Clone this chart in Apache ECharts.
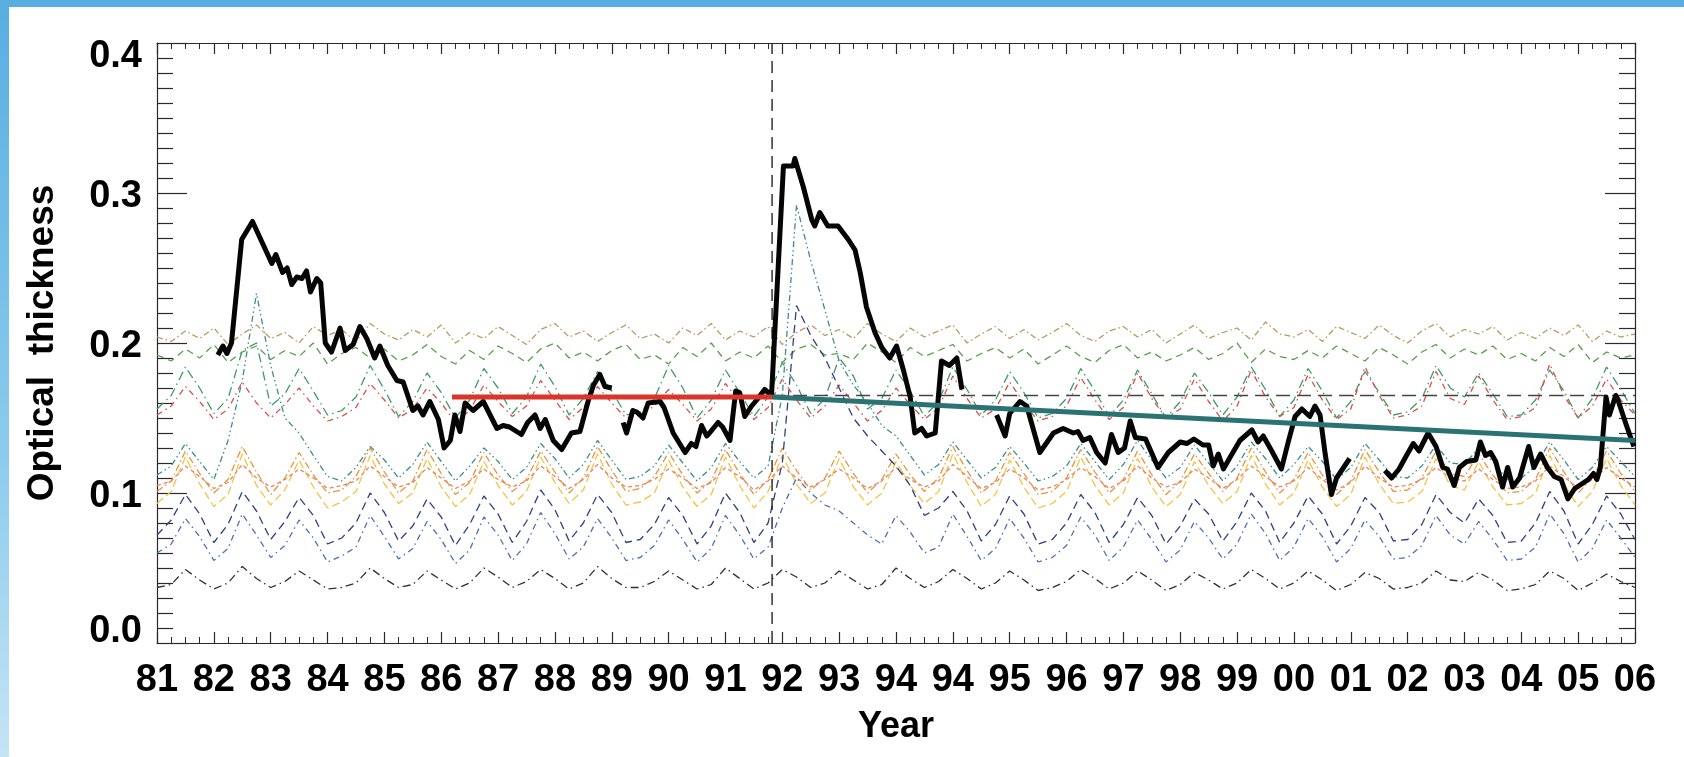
<!DOCTYPE html>
<html>
<head>
<meta charset="utf-8">
<script src="https://cdn.jsdelivr.net/npm/echarts/dist/echarts.min.js"></script>
<style>
  html, body { margin: 0; padding: 0; background: #ffffff; }
  #chart { width: 1684px; height: 757px; }
</style>
</head>
<body>
<div id="chart"></div>
<script>
// Year tick labels along the bottom axis (one per axis unit)
const xLabels = ['81','82','83','84','85','86','87','88','89','90','91','92','93','94','94',
  '95','96','97','98','99','00','01','02','03','04','05','06'];

// Optical thickness (thick black curve); null marks a data gap
const blackT = [
  1.07,1.16,1.23,1.31,1.49,1.68,2.02,2.09,2.21,2.29,
  2.37,2.46,2.55,2.63,2.70,2.81,2.88,2.96,3.07,3.22,
  3.31,3.45,3.57,3.69,3.83,3.92,4.06,4.22,4.33,4.50,
  4.59,4.68,4.80,4.95,5.05,5.16,5.24,5.33,5.42,5.56,
  5.74,5.98,6.09,6.20,6.41,6.52,6.65,6.74,6.83,6.97,
  7.12,7.29,7.44,7.59,7.68,7.79,7.88,8.00,8.10,
  8.20,8.26,8.37,8.44,8.55,8.64,8.85,8.92,9.08,9.29,
  9.40,9.48,9.58,9.67,9.72,9.87,9.95,10.08,10.18,10.25,
  10.34,10.46,10.55,10.69,10.81,11.02,11.19,11.22,11.37,11.52,
  11.57,11.66,11.80,11.98,12.16,12.28,12.37,12.48,12.63,12.75,
  12.89,13.01,13.13,13.25,13.33,13.45,13.54,13.69,13.80,13.94,
  14.07,14.16,14.40,
  14.77,14.92,15.00,15.18,15.30,15.53,15.77,15.94,16.12,16.20,
  16.29,16.41,16.53,16.68,16.79,16.91,17.02,17.12,17.21,17.39,
  17.61,17.79,18.00,18.12,18.24,18.40,18.50,18.58,18.67,18.76,
  18.88,19.05,19.26,19.37,19.46,19.61,19.78,19.90,20.02,20.14,
  20.28,20.37,20.46,20.55,20.66,20.75,20.98,21.30,
  21.60,21.72,21.85,21.98,22.10,22.20,22.36,22.50,22.62,22.70,
  22.82,22.91,23.04,23.20,23.28,23.37,23.46,23.55,23.67,23.76,
  23.85,23.97,24.13,24.22,24.34,24.46,24.58,24.70,24.82,24.94,
  25.06,25.18,25.27,25.33,25.39,25.49,25.55,25.66,25.70,25.85,25.98
];
const blackV = [
  .192,.198,.193,.200,.269,.281,.253,.259,.247,.250,
  .239,.244,.243,.248,.234,.243,.240,.200,.194,.210,
  .195,.199,.211,.203,.190,.198,.185,.175,.174,.155,
  .158,.152,.161,.149,.130,.135,.152,.141,.160,.155,
  .161,.143,.145,.144,.139,.147,.152,.143,.149,.135,
  .129,.140,.141,.162,.172,.179,.171,.170,null,
  .147,.140,.155,.154,.150,.160,.161,.157,.140,.127,
  .133,.131,.145,.138,.140,.147,.144,.135,.168,.167,
  .151,.158,.162,.169,.165,.318,.318,.323,.304,.282,
  .278,.287,.278,.278,.269,.262,.247,.224,.207,.197,
  .190,.198,.182,.164,.140,.143,.138,.140,.188,.185,
  .190,.169,null,
  .152,.138,.153,.161,.158,.127,.140,.143,.140,.141,
  .135,.137,.127,.120,.139,.127,.130,.148,.137,.136,
  .117,.127,.134,.133,.136,.132,.132,.118,.126,.116,
  .124,.135,.142,.134,.138,.128,.116,.134,.151,.156,
  .151,.158,.152,.126,.099,.110,.123,null,
  .115,.110,.116,.125,.133,.128,.140,.131,.117,.116,
  .105,.117,.121,.122,.134,.125,.127,.121,.104,.117,
  .104,.110,.131,.117,.126,.117,.111,.109,.096,.103,
  .106,.109,.113,.109,.117,.164,.152,.165,.162,.145,.131
];

// Mean before the eruption, trend after it, and the reference level
const meanT = [5.19, 10.82];
const meanV = [0.164, 0.164];
const trendT = [10.82, 26];
const trendV = [0.164, 0.135];
const refLevelT = [10.82, 26];
const refLevelV = [0.165, 0.165];
const eruptionT = 10.82;

// Quarterly samples of the individual thin curves
const quarterT = Array.from({ length: 105 }, (_, i) => i / 4);

const olive = [
  .204,.201,.208,.203,.210,.199,.206,.212, .203,.207,.200,.211,.205,.209,.201,.213,
  .206,.202,.209,.204,.212,.200,.207,.203, .211,.205,.199,.209,.213,.204,.208,.201,
  .207,.212,.203,.206,.200,.210,.205,.213, .202,.208,.204,.211,.199,.207,.212,.205,
  .209,.203,.213,.206,.201,.210,.204,.208, .212,.200,.206,.211,.203,.209,.202,.207,
  .213,.205,.201,.208,.211,.204,.209,.200, .206,.212,.203,.207,.210,.202,.214,.206,
  .204,.209,.201,.211,.207,.203,.212,.205, .200,.208,.213,.204,.209,.206,.211,.202,
  .207,.203,.210,.205,.212,.201,.208,.204, .206
];
const greenDash = [
  .192,.188,.196,.190,.199,.187,.194,.198, .189,.195,.191,.200,.186,.193,.197,.190,
  .196,.188,.192,.199,.191,.186,.195,.189, .198,.193,.187,.196,.200,.190,.194,.188,
  .195,.199,.189,.192,.186,.197,.191,.200, .188,.194,.190,.198,.187,.196,.199,.192,
  .193,.189,.200,.194,.187,.197,.191,.195, .199,.188,.193,.197,.190,.196,.186,.192,
  .198,.191,.187,.195,.199,.190,.194,.188, .192,.197,.189,.193,.200,.187,.196,.191,
  .189,.195,.190,.198,.193,.188,.197,.192, .186,.194,.199,.190,.196,.192,.198,.189,
  .193,.188,.197,.191,.199,.187,.194,.190, .192
];
const greenDot = [
  .156,.165,.184,.170,.153,.163,.195,.200, .158,.166,.183,.168,.152,.155,.164,.185,
  .169,.151,.161,.180,.167,.150,.162,.183, .170,.153,.164,.186,.171,.152,.163,.181,
  .168,.152,.154,.163,.185,.170,.150,.162, .182,.167,.151,.164,.187,.172,.153,.163,
  .190,.178,.156,.163,.182,.168,.151,.161, .184,.169,.152,.162,.181,.167,.150,.153,
  .163,.183,.168,.151,.162,.182,.166,.150, .161,.180,.167,.152,.164,.184,.169,.151,
  .162,.183,.168,.150,.161,.181,.167,.152, .154,.163,.185,.170,.164,.180,.166,.151,
  .152,.162,.182,.168,.150,.163,.184,.169, .153
];
const redDot = [
  .152,.158,.171,.161,.149,.156,.174,.160, .150,.159,.170,.158,.148,.151,.157,.173,
  .162,.150,.156,.170,.160,.147,.155,.172, .161,.151,.158,.175,.162,.149,.157,.171,
  .160,.150,.152,.158,.169,.159,.148,.156, .173,.161,.149,.157,.176,.162,.150,.158,
  .172,.160,.148,.155,.170,.159,.149,.157, .178,.163,.150,.156,.174,.160,.148,.151,
  .158,.177,.162,.149,.157,.180,.163,.150, .156,.176,.161,.148,.158,.182,.164,.151,
  .157,.179,.162,.149,.156,.184,.165,.150, .152,.158,.181,.163,.159,.178,.162,.149,
  .151,.157,.186,.165,.150,.158,.176,.162, .152
];
const tealDot = [
  .112,.118,.133,.121,.109,.135,.175,.233, .185,.150,.140,.125,.111,.108,.117,.131,
  .122,.110,.119,.134,.121,.108,.118,.130, .121,.109,.117,.133,.123,.110,.119,.135,
  .122,.109,.111,.118,.132,.120,.108,.117, .133,.121,.110,.118,.165,.292,.255,.222,
  .188,.172,.160,.145,.138,.125,.112,.119, .134,.122,.110,.117,.131,.120,.108,.111,
  .118,.133,.121,.109,.119,.135,.122,.110, .117,.132,.120,.108,.118,.134,.123,.110,
  .119,.131,.121,.109,.117,.133,.122,.111, .110,.118,.132,.120,.119,.130,.121,.109,
  .110,.118,.134,.122,.109,.117,.131,.121, .111
];
const orangeDot = [
  .101,.108,.128,.113,.100,.109,.131,.114, .099,.110,.127,.112,.100,.102,.111,.130,
  .114,.100,.108,.129,.113,.099,.107,.127, .112,.101,.109,.128,.114,.100,.110,.131,
  .115,.101,.103,.111,.127,.112,.100,.108, .129,.113,.099,.109,.130,.115,.102,.110,
  .128,.113,.100,.109,.126,.112,.101,.110, .131,.115,.100,.108,.127,.113,.099,.101,
  .110,.129,.114,.100,.109,.128,.112,.099, .108,.126,.113,.101,.110,.130,.114,.100,
  .109,.127,.112,.099,.108,.129,.114,.101, .102,.110,.128,.113,.111,.126,.112,.100,
  .101,.109,.130,.114,.100,.110,.128,.113, .101
];
const yellowDash = [
  .093,.101,.124,.106,.091,.099,.126,.105, .092,.102,.122,.104,.090,.094,.101,.125,
  .106,.093,.100,.123,.104,.091,.099,.121, .105,.092,.101,.124,.107,.093,.102,.126,
  .106,.092,.094,.100,.122,.104,.091,.099, .124,.105,.090,.101,.125,.106,.093,.100,
  .123,.104,.092,.100,.121,.105,.093,.101, .126,.107,.091,.099,.122,.104,.090,.093,
  .101,.124,.105,.092,.100,.123,.104,.091, .099,.121,.105,.093,.101,.125,.106,.092,
  .100,.122,.104,.091,.099,.124,.106,.093, .094,.101,.123,.105,.102,.121,.104,.092,
  .093,.100,.125,.106,.091,.101,.123,.105, .092
];
const salmonDot = [
  .105,.108,.118,.111,.103,.107,.119,.110, .104,.109,.116,.110,.103,.105,.108,.118,
  .111,.104,.107,.117,.110,.103,.108,.116, .109,.104,.108,.118,.111,.103,.109,.119,
  .110,.104,.105,.109,.116,.110,.103,.107, .117,.111,.102,.108,.118,.110,.104,.109,
  .116,.110,.103,.108,.117,.109,.104,.108, .119,.111,.103,.107,.116,.110,.102,.104,
  .109,.117,.111,.103,.108,.118,.110,.104, .107,.116,.110,.103,.109,.118,.111,.104,
  .108,.117,.109,.102,.107,.118,.110,.104, .105,.109,.117,.110,.108,.116,.109,.103,
  .104,.108,.118,.111,.103,.109,.117,.110, .104
];
const navyDash = [
  .072,.082,.099,.086,.067,.079,.101,.088, .069,.081,.097,.085,.066,.070,.080,.100,
  .087,.068,.078,.096,.084,.065,.079,.098, .086,.067,.081,.102,.089,.068,.080,.099,
  .087,.067,.069,.079,.097,.085,.066,.078, .100,.087,.067,.080,.120,.225,.205,.190,
  .170,.150,.138,.128,.118,.105,.085,.090, .101,.088,.068,.079,.098,.086,.066,.069,
  .080,.099,.087,.067,.079,.097,.085,.066, .078,.096,.086,.068,.081,.100,.088,.067,
  .080,.098,.086,.066,.078,.097,.087,.068, .069,.079,.099,.087,.080,.096,.085,.067,
  .068,.080,.101,.088,.066,.079,.098,.086, .069
];
const blueDot = [
  .060,.066,.083,.071,.055,.063,.086,.072, .057,.065,.082,.070,.054,.058,.064,.085,
  .071,.056,.063,.081,.069,.053,.062,.084, .072,.055,.066,.087,.073,.056,.064,.083,
  .070,.055,.057,.065,.082,.069,.054,.063, .085,.072,.056,.064,.090,.110,.100,.092,
  .088,.080,.072,.066,.085,.074,.060,.064, .086,.071,.055,.063,.083,.070,.054,.057,
  .065,.084,.072,.055,.064,.082,.069,.054, .062,.081,.070,.056,.066,.086,.073,.055,
  .064,.083,.071,.054,.063,.082,.071,.056, .057,.065,.085,.072,.066,.081,.069,.055,
  .056,.064,.086,.073,.054,.063,.082,.070, .057
];
const darkDot = [
  .037,.039,.049,.042,.036,.040,.051,.043, .037,.041,.048,.042,.036,.037,.040,.050,
  .043,.037,.039,.048,.042,.036,.040,.050, .044,.037,.041,.049,.043,.036,.040,.051,
  .043,.037,.037,.041,.048,.042,.036,.039, .050,.043,.036,.040,.049,.044,.037,.040,
  .048,.042,.036,.039,.050,.043,.037,.041, .049,.043,.036,.040,.048,.042,.035,.037,
  .041,.049,.043,.036,.040,.048,.042,.035, .039,.047,.042,.036,.040,.049,.043,.036,
  .040,.048,.042,.035,.039,.047,.043,.036, .037,.040,.048,.042,.041,.047,.042,.035,
  .036,.039,.048,.043,.035,.040,.046,.041, .037
];

const FONT = 'Liberation Sans';

function thinCurve(values, color, dash) {
  return {
    type: 'line',
    data: values.map((v, i) => [quarterT[i], v]),
    symbol: 'none',
    silent: true,
    z: 2,
    lineStyle: { color: color, width: 1.3, type: dash }
  };
}

function pairs(ts, vs) {
  return ts.map((t, i) => [t, vs[i] === null ? '-' : vs[i]]);
}

const chart = echarts.init(document.getElementById('chart'), null, { renderer: 'canvas' });

const tickColor = '#2a2a2a';
function frameAxisX(position, showLabels) {
  return {
    type: 'value', position: position, min: 0, max: 26, interval: 1,
    axisLine: { show: true, onZero: false, lineStyle: { color: tickColor, width: 1.2 } },
    axisTick: { show: true, inside: true, length: 11, lineStyle: { color: tickColor, width: 1.2 } },
    minorTick: { show: true, splitNumber: 4, length: 6, lineStyle: { color: tickColor, width: 1 } },
    splitLine: { show: false },
    axisLabel: showLabels ? {
      show: true, margin: 19, color: '#000', fontFamily: FONT, fontWeight: 'bold', fontSize: 38,
      formatter: v => xLabels[Math.round(v)] || ''
    } : { show: false },
    name: showLabels ? 'Year' : '',
    nameLocation: 'middle', nameGap: 66,
    nameTextStyle: { color: '#000', fontFamily: FONT, fontWeight: 'bold', fontSize: 36 }
  };
}
function frameAxisY(position, showLabels) {
  const tok = { fontFamily: FONT, fontWeight: 'bold', fontSize: 38, color: '#000' };
  return {
    type: 'value', position: position, min: 0, max: 0.4, interval: 0.1,
    axisLine: { show: true, onZero: false, lineStyle: { color: tickColor, width: 1.2 } },
    axisTick: { show: true, inside: true, length: 30, lineStyle: { color: tickColor, width: 1.2 } },
    minorTick: { show: true, splitNumber: 10, length: 16, lineStyle: { color: tickColor, width: 1.2 } },
    splitLine: { show: false },
    axisLabel: showLabels ? {
      show: true, margin: 15, fontFamily: FONT, fontWeight: 'bold', fontSize: 38, color: '#000',
      formatter: v => {
        const s = v.toFixed(1);
        if (v > 0.35) return '{top|' + s + '}';
        if (v < 0.05) return '{bot|' + s + '}';
        return '{mid|' + s + '}';
      },
      rich: {
        top: Object.assign({ padding: [28, 0, 0, 0] }, tok),
        bot: Object.assign({ padding: [0, 0, 22, 0] }, tok),
        mid: Object.assign({ padding: [8, 0, 0, 0] }, tok)
      }
    } : { show: false },
    name: showLabels ? 'Optical  thickness' : '',
    nameLocation: 'middle', nameGap: 96,
    nameTextStyle: { color: '#000', fontFamily: FONT, fontWeight: 'bold', fontSize: 37 }
  };
}

chart.setOption({
  animation: false,
  backgroundColor: '#ffffff',
  grid: { left: 157, right: 49, top: 43, bottom: 114, containLabel: false },
  xAxis: [frameAxisX('bottom', true), frameAxisX('top', false)],
  yAxis: [frameAxisY('left', true), frameAxisY('right', false)],
  graphic: [
    { type: 'rect', left: 0, top: 0, z: 100, shape: { width: 1684, height: 7 },
      style: { fill: '#58aee1' } },
    { type: 'rect', left: 0, top: 0, z: 100, shape: { width: 9, height: 757 },
      style: { fill: new echarts.graphic.LinearGradient(0, 0, 0, 1, [
        { offset: 0, color: '#58aee1' }, { offset: 0.6, color: '#8ccbed' }, { offset: 1, color: '#c4e4f6' }
      ]) } }
  ],
  series: [
    thinCurve(olive, '#b89a5c', [6, 3, 1.5, 3]),
    thinCurve(greenDash, '#5a9e4b', [7, 5]),
    thinCurve(greenDot, '#3f9a6a', [9, 4, 1.5, 4]),
    thinCurve(redDot, '#d8504a', [6, 4, 1.5, 4]),
    thinCurve(tealDot, '#3c8c8c', [6, 3, 1.5, 3, 1.5, 3]),
    thinCurve(orangeDot, '#e8953a', [7, 3, 1.5, 3]),
    thinCurve(yellowDash, '#f3c443', [8, 4]),
    thinCurve(salmonDot, '#e4846a', [4, 3]),
    thinCurve(navyDash, '#2f3f82', [8, 5]),
    thinCurve(blueDot, '#4d6fb0', [6, 4, 1.5, 4]),
    thinCurve(darkDot, '#303030', [8, 4, 1.5, 4]),
    {
      type: 'line', silent: true, z: 4, symbol: 'none',
      data: [[eruptionT, 0], [eruptionT, 0.4]],
      lineStyle: { color: '#222', width: 1.4, type: [12, 7] }
    },
    {
      type: 'line', silent: true, z: 4, symbol: 'none',
      data: pairs(refLevelT, refLevelV),
      lineStyle: { color: '#444', width: 1.4, type: [14, 7] }
    },
    {
      type: 'line', silent: true, z: 5, symbol: 'none', connectNulls: false,
      data: pairs(blackT, blackV),
      lineStyle: { color: '#050505', width: 5, join: 'round' }
    },
    {
      type: 'line', silent: true, z: 6, symbol: 'none',
      data: pairs(meanT, meanV),
      lineStyle: { color: '#d8352b', width: 5 }
    },
    {
      type: 'line', silent: true, z: 6, symbol: 'none',
      data: pairs(trendT, trendV),
      lineStyle: { color: '#2b7272', width: 5 }
    }
  ]
});
</script>
</body>
</html>
